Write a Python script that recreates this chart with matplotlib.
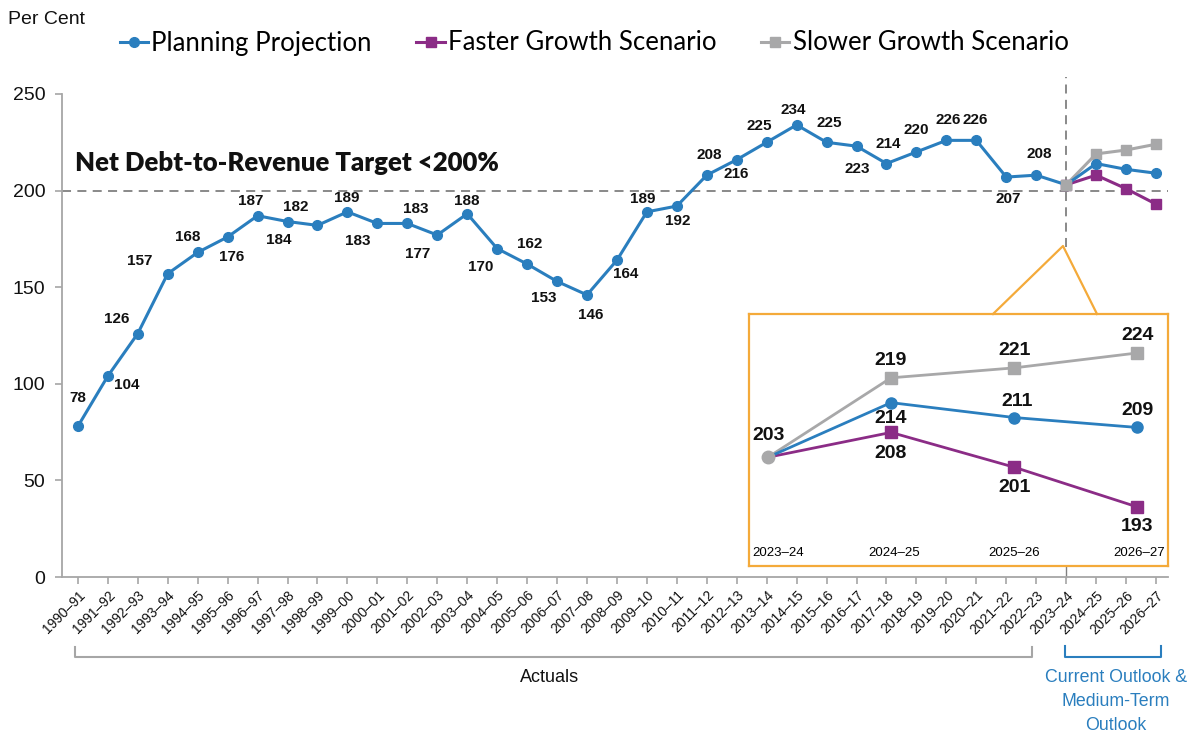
import matplotlib
matplotlib.use("Agg")
import matplotlib.pyplot as plt
from matplotlib.lines import Line2D
import matplotlib.transforms as mtransforms

# ---------------- data ----------------
years = ["1990–91", "1991–92", "1992–93", "1993–94", "1994–95", "1995–96", "1996–97",
         "1997–98", "1998–99", "1999–00", "2000–01", "2001–02", "2002–03", "2003–04",
         "2004–05", "2005–06", "2006–07", "2007–08", "2008–09", "2009–10", "2010–11",
         "2011–12", "2012–13", "2013–14", "2014–15", "2015–16", "2016–17", "2017–18",
         "2018–19", "2019–20", "2020–21", "2021–22", "2022–23", "2023–24", "2024–25",
         "2025–26", "2026–27"]
planning = [78, 104, 126, 157, 168, 176, 187, 184, 182, 189, 183, 183, 177, 188, 170,
            162, 153, 146, 164, 189, 192, 208, 216, 225, 234, 225, 223, 214, 220, 226,
            226, 207, 208, 203, 214, 211, 209]
outlook_years = ["2023–24", "2024–25", "2025–26", "2026–27"]
planning_outlook = [203, 214, 211, 209]
faster = [203, 208, 201, 193]
slower = [203, 219, 221, 224]
target = 200
n_actual_labels = 33          # values labelled on the main chart
yticks = [0, 50, 100, 150, 200, 250]

# label offsets in pixels (dx right, dy down) for the main chart labels
main_offsets = [(0, -28), (19, 9), (-21, -15), (-28, -13), (-10, -15), (4, 20), (-7, -15),
                (-9, 18), (-22, -18), (-1, -14), (-20, 18), (8, -14), (-20, 19), (0, -13),
                (-16, 18), (3, -20), (-13, 17), (4, 20), (9, 14), (-4, -13), (1, 15),
                (2, -20), (-1, 14), (-7, -16), (-3, -15), (3, -19), (1, 23), (2, -20),
                (0, -22), (2, -20), (-1, -20), (2, 22), (3, -21)]
inset_plan_off = [None, (0, 16), (3, -16), (0, -17)]
inset_fast_off = [None, (0, 21), (0, 20), (0, 20)]
inset_slow_off = [(1, -22), (0, -17), (0, -17), (0, -17)]
inset_tick_shift = [10, 3, 0, 2]   # pixels, keeps the end labels inside the frame

# ---------------- style ----------------
BLUE = "#2A7EBE"
PURPLE = "#8B2C86"
GREY = "#A8A8A9"
ORANGE = "#F4AA3A"
AXIS = "#A6A6A6"
DASH = "#808080"
SANS = ["Liberation Sans", "DejaVu Sans"]
LEG = ["Lato", "DejaVu Sans"]

W, H = 1190, 734
fig = plt.figure(figsize=(W / 100, H / 100), dpi=100)

def fx(px):
    return px / W

def fy(py):
    return 1 - py / H

ax = fig.add_axes([fx(62), fy(577), fx(1168) - fx(62), fy(94) - fy(577)])
x = list(range(len(years)))
n0 = len(years) - len(outlook_years)
xo = list(range(n0, len(years)))

ax.set_xlim(-0.53, 36.4)
ax.set_ylim(0, 250)

# target line
ax.axhline(target, color=DASH, lw=1.3, ls=(0, (5, 3.5)), zorder=1)
ax.text(-0.1, 214.5, "Net Debt-to-Revenue Target <200%", fontsize=18.5,
        fontweight="heavy", family=LEG, ha="left", va="center", color="#111111")

# vertical divider at the start of the outlook
ax.plot([n0, n0], [171, 259], color=DASH, lw=1.3, ls=(0, (5, 3.5)), clip_on=False, zorder=1)
ax.plot([n0, n0], [0, 5.6], color=DASH, lw=1.0, clip_on=False, zorder=1)

# series
ax.plot(x, planning, color=BLUE, lw=2.2, marker="o", ms=7, zorder=4)
ax.plot(xo, faster, color=PURPLE, lw=2.2, marker="s", ms=7, zorder=3)
ax.plot(xo, slower, color=GREY, lw=2.2, marker="s", ms=7, zorder=3)
ax.plot([xo[0]], [slower[0]], color=GREY, marker="s", ms=7, zorder=5)

for i in range(n_actual_labels):
    dx, dy = main_offsets[i]
    ax.annotate(str(planning[i]), (x[i], planning[i]), xytext=(dx, -dy),
                textcoords="offset pixels", ha="center", va="center",
                fontsize=11, fontweight="bold", family=SANS, color="#111111", zorder=6)

# axes styling
for s in ["top", "right"]:
    ax.spines[s].set_visible(False)
for s in ["left", "bottom"]:
    ax.spines[s].set_color(AXIS)
    ax.spines[s].set_linewidth(1.3)
ax.set_yticks(yticks)
ax.set_yticklabels([str(v) for v in yticks], family=SANS, fontsize=14)
ax.set_xticks(x)
ax.set_xticklabels(years, rotation=45, ha="right", rotation_mode="anchor",
                   family=SANS, fontsize=10)
ax.tick_params(axis="both", colors=AXIS, labelcolor="#111111", length=5, width=1.2)
ax.tick_params(axis="x", pad=3)
ax.tick_params(axis="y", pad=7)

fig.text(fx(8), fy(20), "Per Cent", family=SANS, fontsize=14, ha="left", va="center",
         color="#111111")

# legend
handles = [Line2D([], [], color=BLUE, lw=2.2, marker="o", ms=7),
           Line2D([], [], color=PURPLE, lw=2.2, marker="s", ms=7),
           Line2D([], [], color=GREY, lw=2.2, marker="s", ms=7)]
fig.legend(handles, ["Planning Projection", "Faster Growth Scenario", "Slower Growth Scenario"],
           loc="center", bbox_to_anchor=(fx(594), fy(43)), ncol=3, frameon=False,
           handlelength=1.1, handletextpad=0.12, columnspacing=1.75,
           prop={"family": LEG, "size": 18.5})

# callout pointer from the divider to the inset box
fig.add_artist(Line2D([fx(993), fx(1063), fx(1097)], [fy(314), fy(246), fy(314)],
                      color=ORANGE, lw=1.6, transform=fig.transFigure))

# inset zooming into the outlook years
ins = fig.add_axes([fx(749), fy(566), fx(1168) - fx(749), fy(314) - fy(566)])
ins.set_facecolor("white")
for s in ins.spines.values():
    s.set_color(ORANGE)
    s.set_linewidth(1.6)
ins.set_xlim(-0.154, 3.25)
ins.set_ylim(181.1, 231.85)
ins.set_yticks([])
xi = list(range(len(outlook_years)))
ins.set_xticks(xi)
ins.set_xticklabels(outlook_years, family=SANS, fontsize=9.5)
ins.tick_params(axis="x", length=0, pad=-14)
for lab, sh in zip(ins.get_xticklabels(), inset_tick_shift):
    lab.set_transform(lab.get_transform() +
                      mtransforms.ScaledTranslation(sh / 100, 0, fig.dpi_scale_trans))
ins.plot(xi, slower, color=GREY, lw=2.0, marker="s", ms=8, markevery=[1, 2, 3], zorder=3)
ins.plot(xi, planning_outlook, color=BLUE, lw=2.0, marker="o", ms=8, markevery=[1, 2, 3], zorder=4)
ins.plot(xi, faster, color=PURPLE, lw=2.0, marker="s", ms=8, markevery=[1, 2, 3], zorder=3)
ins.plot([xi[0]], [slower[0]], color=GREY, marker="o", ms=9, zorder=5)

for vals, offs in [(planning_outlook, inset_plan_off), (faster, inset_fast_off),
                   (slower, inset_slow_off)]:
    for i, v in enumerate(vals):
        if offs[i] is None:
            continue
        dx, dy = offs[i]
        ins.annotate(str(v), (xi[i], v), xytext=(dx, -dy), textcoords="offset pixels",
                     ha="center", va="center", fontsize=14, fontweight="bold",
                     family=SANS, color="#111111", zorder=6)

# period brackets under the axis
blend = mtransforms.blended_transform_factory(ax.transData, fig.transFigure)
fig.add_artist(Line2D([-0.1, -0.1, 31.85, 31.85], [fy(647), fy(657), fy(657), fy(647)],
                      color=AXIS, lw=1.5, transform=blend))
fig.add_artist(Line2D([32.95, 32.95, 36.15, 36.15], [fy(646), fy(657), fy(657), fy(646)],
                      color=BLUE, lw=1.5, transform=blend))
fig.text(fx(550), fy(678), "Actuals", family=SANS, fontsize=13, ha="center", va="center",
         color="#111111")
for txt, py in [("Current Outlook &", 677), ("Medium-Term", 702), ("Outlook", 726)]:
    fig.text(fx(1116), fy(py), txt, family=SANS, fontsize=12.8, ha="center", va="center",
             color=BLUE)

fig.savefig("out.png", dpi=100)
